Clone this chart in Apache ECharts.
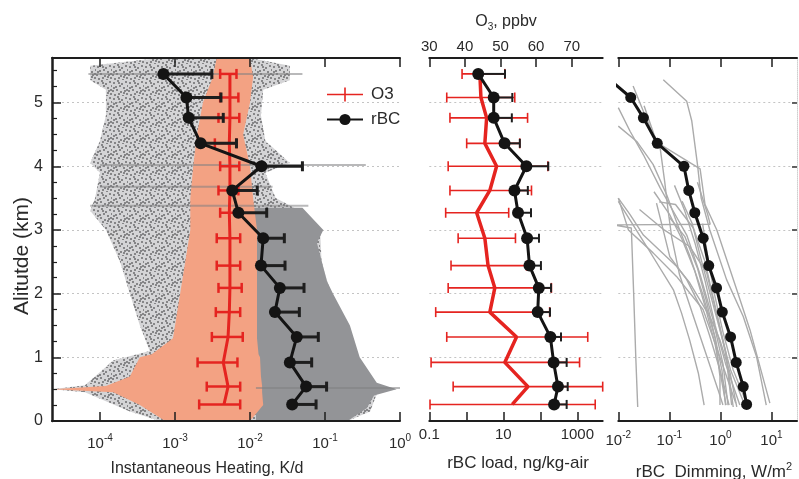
<!DOCTYPE html>
<html>
<head>
<meta charset="utf-8">
<title>Heating, rBC load and dimming profiles</title>
<script src="https://cdn.jsdelivr.net/npm/echarts@6.0.0/dist/echarts.min.js"></script>
<style>
html, body { margin: 0; padding: 0; background: #fff; }
#chart { width: 799px; height: 479px; }
</style>
</head>
<body>
<div id="chart"></div>
<script>
// ---------------------------------------------------------------------------
// Profile data (altitude bins in km)
// ---------------------------------------------------------------------------
const altitudes = [5.45, 5.08, 4.76, 4.36, 4.00, 3.62, 3.27, 2.87, 2.44, 2.09, 1.71, 1.32, 0.92, 0.54, 0.26];

// Instantaneous heating rate, K/d
const rbcHeating      = [7.0e-4, 1.42e-3, 1.52e-3, 2.2e-3, 0.0142, 5.8e-3, 7.0e-3, 0.015, 0.014, 0.025, 0.0215, 0.042, 0.034, 0.056, 0.0365];
const rbcHeatingUpper = [3.1e-3, 4.1e-3, 4.4e-3, 6.6e-3, 0.050, 0.0125, 0.0167, 0.0287, 0.0293, 0.0525, 0.0455, 0.0814, 0.0664, 0.105, 0.076];
const o3Heating       = [5.4e-3, 5.4e-3, 5.4e-3, 5.3e-3, 5.4e-3, 5.4e-3, 5.3e-3, 5.4e-3, 5.4e-3, 5.4e-3, 5.3e-3, 5.1e-3, 4.4e-3, 5.1e-3, 4.5e-3];
const o3HeatingLower  = [4.0e-3, 4.0e-3, 3.8e-3, 3.4e-3, 4.0e-3, 3.8e-3, 4.0e-3, 3.6e-3, 3.6e-3, 3.8e-3, 3.5e-3, 3.1e-3, 2.0e-3, 2.65e-3, 2.1e-3];
const o3HeatingUpper  = [6.6e-3, 7.0e-3, 7.2e-3, 6.6e-3, 7.2e-3, 7.0e-3, 7.0e-3, 7.4e-3, 7.4e-3, 7.75e-3, 7.4e-3, 8.0e-3, 6.8e-3, 7.4e-3, 7.4e-3];

// Envelopes of the individual heating samples: [altitude, low K/d, high K/d]
const sampleCloudGrey = [
  [0.00, 6.3e-4, 0.20], [0.15, 2.5e-4, 0.40], [0.45, 6.3e-5, 0.50], [0.50, 2.3e-5, 0.90],
  [0.56, 6.3e-5, 0.50], [0.95, 1.5e-4, 0.30], [1.10, 4.6e-4, 0.25], [1.50, 3.4e-4, 0.19],
  [2.00, 2.5e-4, 0.12], [2.50, 1.85e-4, 0.09], [3.00, 1.2e-4, 0.086], [3.30, 7.4e-5, 0.046],
  [3.50, 8.6e-5, 0.022], [3.90, 1.0e-4, 0.016], [4.05, 7.4e-5, 0.034], [4.40, 1.0e-4, 0.016],
  [4.80, 1.2e-4, 0.014], [5.20, 1.2e-4, 0.015], [5.35, 7.4e-5, 0.034], [5.58, 7.4e-5, 0.034],
  [5.70, 6.3e-4, 0.010]
];
const sampleCloudDense = [
  [0.00, 0.012, 0.20], [0.20, 0.012, 0.36], [0.40, 0.012, 0.45], [0.50, 0.012, 0.90],
  [0.60, 0.012, 0.49], [1.00, 0.012, 0.29], [1.50, 0.012, 0.215], [2.00, 0.011, 0.128],
  [2.20, 0.011, 0.106], [2.80, 0.010, 0.078], [3.00, 0.010, 0.095], [3.35, 0.009, 0.05]
];
const sampleCloudO3 = [
  [0.00, 7.4e-4, 0.010], [0.25, 3.4e-4, 0.015], [0.45, 1.5e-4, 0.0145], [0.50, 2.3e-5, 0.0145],
  [0.55, 1.2e-4, 0.0145], [0.70, 2.5e-4, 0.014], [1.00, 3.4e-4, 0.0136], [1.05, 4.9e-4, 0.013],
  [1.30, 9.4e-4, 0.0124], [2.00, 1.17e-3, 0.0124], [2.50, 1.37e-3, 0.0124], [3.00, 1.6e-3, 0.0124],
  [3.50, 1.6e-3, 0.011], [4.00, 1.75e-3, 0.010], [4.50, 1.96e-3, 8.1e-3], [5.00, 2.36e-3, 0.010],
  [5.40, 3.2e-3, 0.011], [5.70, 3.6e-3, 0.010]
];
// Level legs flown at constant altitude: [altitude, low K/d, high K/d]
const levelLegs = [[5.45, 7.0e-5, 0.05], [4.02, 1.0e-4, 0.35], [3.68, 1.0e-4, 0.02], [3.38, 7.4e-5, 0.06], [0.52, 0.012, 1.0]];

// rBC load, ng/kg-air, and ozone, ppbv
const rbcLoad      = [2.1, 5.5, 5.5, 10.8, 42, 20, 25, 44, 51, 91, 85, 187, 229, 300, 236];
const rbcLoadUpper = [11.1, 17.5, 17.0, 28, 164, 46, 56, 92, 104, 195, 183, 362, 515, 550, 515];
const o3Ppbv       = [44.2, 44.5, 46.1, 45.6, 48.9, 47.0, 43.3, 45.6, 46.5, 48.4, 47.0, 54.5, 51.2, 57.7, 53.3];
const o3PpbvLower  = [39.2, 34.9, 35.8, 40.5, 35.3, 35.8, 34.6, 38.1, 36.1, 35.3, 31.8, 34.9, 30.5, 36.7, 30.2];
const o3PpbvUpper  = [51.2, 54.0, 57.6, 55.4, 63.3, 58.7, 52.3, 54.2, 57.3, 64.3, 63.8, 74.5, 72.2, 78.7, 76.6];

// rBC dimming, W/m^2 (mean profile)
const dimming = [0.005, 0.0175, 0.031, 0.058, 0.193, 0.24, 0.315, 0.46, 0.59, 0.84, 1.09, 1.58, 2.04, 2.8, 3.26];

// Individual flight dimming profiles: [W/m^2, altitude km]
const dimmingProfiles = [
  [[0.076, 5.36], [0.219, 5.02], [0.275, 4.71], [0.355, 4.03], [0.42, 3.5], [0.62, 3.0], [1.32, 2.22], [2.8, 1.64], [5.1, 1.01], [7.9, 0.25]],
  [[0.0195, 5.26], [0.033, 4.81], [0.056, 4.38], [0.40, 3.96], [0.50, 3.40], [0.85, 3.0], [2.09, 2.06], [3.8, 1.43], [9.3, 0.28]],
  [[0.010, 4.92], [0.017, 4.55], [0.031, 4.18], [0.066, 3.66], [0.12, 3.29], [0.219, 2.92], [0.40, 2.3], [0.71, 1.6], [1.12, 0.9], [1.41, 0.25]],
  [[0.010, 4.63], [0.023, 4.39], [0.048, 4.03], [0.089, 3.55], [0.138, 3.13], [0.25, 2.6], [0.447, 2.0], [0.79, 1.3], [1.07, 0.8], [1.26, 0.25]],
  [[0.355, 3.75], [0.56, 3.25], [0.63, 3.09], [0.0079, 3.08], [0.018, 3.03], [0.020, 2.0], [0.022, 1.0], [0.024, 0.22]],
  [[0.010, 3.5], [0.0158, 3.0], [0.048, 2.64], [0.138, 2.27], [0.457, 1.75], [0.89, 1.1], [2.0, 0.28]],
  [[0.026, 3.32], [0.079, 3.0], [0.25, 2.74], [0.537, 2.33], [0.89, 1.6], [1.32, 1.0], [1.78, 0.22]],
  [[0.063, 3.44], [0.132, 3.4], [0.295, 3.03], [0.50, 2.5], [0.79, 1.8], [1.26, 1.1], [1.66, 0.25]],
  [[0.010, 3.5], [0.017, 3.24], [0.031, 2.92], [0.138, 2.43], [0.25, 2.17], [0.62, 1.64], [0.98, 1.27], [1.55, 0.75], [2.09, 0.22]],
  [[0.010, 3.45], [0.036, 2.74], [0.12, 2.06], [0.174, 1.69], [0.25, 1.27], [0.37, 0.75], [0.48, 0.25]],
  [[0.056, 3.42], [0.102, 2.58], [0.219, 2.22], [0.40, 1.8], [0.62, 1.33], [0.98, 0.8], [1.48, 0.25]],
  [[0.126, 3.7], [0.20, 3.3], [0.316, 2.8], [0.50, 2.2], [0.79, 1.5], [1.26, 0.9], [2.4, 0.25]],
  [[0.178, 3.45], [0.28, 3.1], [0.40, 2.6], [0.63, 2.0], [1.0, 1.4], [1.58, 0.8], [3.0, 0.25]],
  [[0.10, 3.2], [0.20, 2.9], [0.355, 2.4], [0.525, 1.9], [0.79, 1.3], [0.98, 0.7], [0.98, 0.25]],
  [[0.447, 3.1], [0.56, 2.6], [0.76, 2.0], [1.12, 1.4], [1.78, 0.8], [3.3, 0.27]],
  [[0.050, 3.6], [0.10, 3.25], [0.178, 2.85], [0.316, 2.35], [0.50, 1.8], [0.79, 1.2], [1.29, 0.25]],
  [[0.032, 4.95], [0.050, 4.5], [0.066, 4.29], [0.081, 3.76], [0.095, 3.29], [0.112, 2.87], [0.158, 2.3], [0.28, 1.7], [0.50, 1.1], [0.89, 0.5], [1.12, 0.25]]
];

// Axis tick positions (log10 decades for the logarithmic axes)
const heatingDecades = [-4, -3, -2, -1, 0];
const loadDecades = [-1, 0, 1, 2, 3];
const loadLabelDecades = [-1, 1, 3];
const o3Ticks = [30, 40, 50, 60, 70];
const dimmingDecades = [-2, -1, 0, 1];
const kmTicks = [0, 1, 2, 3, 4, 5];

// ---------------------------------------------------------------------------
// Helpers
// ---------------------------------------------------------------------------
const FONT = '"Liberation Sans", Arial, Helvetica, sans-serif';
const INK = '#1e1e1e';
const TXT = '#2a2a2a';
const RED = '#e52420';
const log = Math.log10;

const profilePoints = (xs, toX) => xs.map((v, i) => [toX(v), altitudes[i]]);
const barData = (lo, hi, toX) => lo.map((v, i) => [toX(v), toX(hi[i]), altitudes[i]]);

// Mottled fill for the sparse sample cloud (tile of small grey flecks)
function speckleFill() {
  const n = 16;
  const c = document.createElement('canvas');
  c.width = n; c.height = n;
  const g = c.getContext('2d');
  g.fillStyle = 'rgba(160,160,163,0.45)';
  g.fillRect(0, 0, n, n);
  g.fillStyle = 'rgba(125,125,128,0.9)';
  const flecks = [[1, 2], [5, 0], [9, 3], [13, 1], [3, 6], [7, 5], [11, 7], [15, 5], [0, 10], [4, 9],
                  [8, 11], [12, 10], [2, 14], [6, 13], [10, 15], [14, 13], [6, 2], [11, 12], [1, 7], [14, 9]];
  flecks.forEach(d => g.fillRect(d[0], d[1], 2, 2));
  return { image: c, repeat: 'repeat' };
}

function errorBarSeries(data, xAxisIndex, yAxisIndex, color, width, cap, bothCaps, z) {
  return {
    type: 'custom', xAxisIndex, yAxisIndex, data, z, silent: true, clip: true,
    encode: { x: [0, 1], y: 2 },
    renderItem(params, api) {
      const y = api.value(2);
      const a = api.coord([api.value(0), y]);
      const b = api.coord([api.value(1), y]);
      const h = cap / 2;
      const style = { stroke: color, lineWidth: width, fill: null };
      const kids = [
        { type: 'line', shape: { x1: a[0], y1: a[1], x2: b[0], y2: b[1] }, style },
        { type: 'line', shape: { x1: b[0], y1: b[1] - h, x2: b[0], y2: b[1] + h }, style }
      ];
      if (bothCaps) kids.push({ type: 'line', shape: { x1: a[0], y1: a[1] - h, x2: a[0], y2: a[1] + h }, style });
      return { type: 'group', children: kids };
    }
  };
}

// Closed region between a low and a high edge, drawn on the heating axes
function envelopeSeries(rows, fill, z) {
  const pts = rows.map(r => [log(r[1]), r[0]])
    .concat(rows.slice().reverse().map(r => [log(r[2]), r[0]]));
  return {
    type: 'custom', xAxisIndex: 0, yAxisIndex: 0, data: pts, z, silent: true, clip: true,
    encode: { x: 0, y: 1 },
    renderItem(params, api) {
      if (params.dataIndex !== 0) return null;
      return { type: 'polygon', shape: { points: pts.map(p => api.coord(p)) }, style: { fill } };
    }
  };
}

const supRich = {
  b: { fontFamily: FONT, fontSize: 15, lineHeight: 18, color: TXT, verticalAlign: 'bottom' },
  s: { fontFamily: FONT, fontSize: 10, lineHeight: 10, color: TXT, verticalAlign: 'top' }
};
const powerLabel = v => '{b|10}{s|' + Math.round(v) + '}';

const axisLine = { show: true, onZero: false, lineStyle: { color: INK, width: 2 } };
const gridDots = { show: true, lineStyle: { color: '#c4c4c4', width: 1, type: [2, 3] } };

function decadeAxis(gridIndex, position, min, max, ticks, labels, formatter, margin) {
  return {
    gridIndex, type: 'value', position, min, max, z: 10,
    axisLine,
    axisTick: { show: true, inside: true, length: 9, customValues: ticks, lineStyle: { color: INK, width: 1.5 } },
    axisLabel: labels
      ? { show: true, customValues: labels, margin, formatter, rich: supRich, fontFamily: FONT, fontSize: 15, color: TXT }
      : { show: false },
    splitLine: { show: false }
  };
}

// ---------------------------------------------------------------------------
// Chart
// ---------------------------------------------------------------------------
const chart = echarts.init(document.getElementById('chart'), null, { renderer: 'canvas' });

const option = {
  animation: false,
  backgroundColor: '#ffffff',
  textStyle: { fontFamily: FONT },
  grid: [
    { left: 52, right: 399, top: 58, bottom: 58, outerBoundsMode: 'none' },
    { left: 429.3, right: 196.3, top: 58, bottom: 58, outerBoundsMode: 'none' },
    { left: 618.3, right: 2, top: 58, bottom: 58, outerBoundsMode: 'none' }
  ],
  xAxis: [
    decadeAxis(0, 'bottom', -4.64, 0, heatingDecades, heatingDecades, powerLabel, 12),
    decadeAxis(0, 'top', -4.64, 0, heatingDecades, null),
    decadeAxis(1, 'bottom', -1, 3.686, loadDecades, loadLabelDecades,
      v => String(+Math.pow(10, v).toPrecision(3)), 6),
    {
      gridIndex: 1, type: 'value', position: 'top', min: 30, max: 78.7, z: 10,
      axisLine,
      axisTick: { show: true, inside: true, length: 9, customValues: o3Ticks, lineStyle: { color: INK, width: 1.5 } },
      axisLabel: { show: true, customValues: o3Ticks, margin: 4, fontFamily: FONT, fontSize: 15, color: TXT },
      splitLine: { show: false }
    },
    decadeAxis(2, 'bottom', -2, 1.5, dimmingDecades, dimmingDecades, powerLabel, 9),
    decadeAxis(2, 'top', -2, 1.5, dimmingDecades, null)
  ],
  yAxis: [
    {
      gridIndex: 0, type: 'value', position: 'left', min: 0, max: 5.7, interval: 1, z: 10,
      axisLine: { show: true, onZero: false, lineStyle: { color: INK, width: 2.5 } },
      axisTick: { show: true, inside: true, length: 9, lineStyle: { color: INK, width: 1.5 } },
      minorTick: { show: true, splitNumber: 4, length: 5, lineStyle: { color: INK, width: 1.2 } },
      axisLabel: {
        margin: 9, fontFamily: FONT, fontSize: 16, color: TXT,
        formatter: v => (Math.abs(v - Math.round(v)) < 1e-6 ? String(Math.round(v)) : '')
      },
      splitLine: { show: false }
    },
    {
      gridIndex: 1, type: 'value', min: 0, max: 5.7, interval: 1,
      axisLine: { show: false }, axisTick: { show: false }, axisLabel: { show: false },
      splitLine: gridDots
    },
    {
      gridIndex: 2, type: 'value', position: 'right', min: 0, max: 5.7, interval: 1,
      axisLine: { show: true, onZero: false, lineStyle: { color: '#cfcfcf', width: 1, type: 'dotted' } },
      axisTick: { show: true, inside: true, length: 5, customValues: kmTicks, lineStyle: { color: '#333', width: 1.5 } },
      axisLabel: { show: false },
      splitLine: gridDots
    },
    {
      gridIndex: 0, type: 'value', position: 'right', min: 0, max: 5.7, interval: 1,
      axisLine: { show: false }, axisTick: { show: false }, axisLabel: { show: false },
      splitLine: gridDots
    }
  ],
  legend: {
    data: [
      { name: 'O3', icon: 'path://M0,6.2H36V7.8H0Z M17.2,0H18.8V14H17.2Z', itemStyle: { color: RED } },
      { name: 'rBC' }
    ],
    orient: 'vertical', left: 326, top: 86, padding: 0,
    itemWidth: 36, itemHeight: 14, itemGap: 8,
    textStyle: { fontFamily: FONT, fontSize: 17, color: TXT, lineHeight: 14, padding: [0, 0, 0, 3] },
    selectedMode: false
  },
  series: [
    // heating panel: sample clouds
    envelopeSeries(sampleCloudGrey, speckleFill(), 1),
    envelopeSeries(sampleCloudDense, '#939497', 1),
    envelopeSeries(sampleCloudO3, '#f3a283', 1),
    {
      type: 'custom', xAxisIndex: 0, yAxisIndex: 0, z: 1, silent: true, clip: true,
      data: levelLegs.map(r => [log(r[1]), log(r[2]), r[0]]),
      encode: { x: [0, 1], y: 2 },
      renderItem(params, api) {
        const y = api.value(2);
        const a = api.coord([api.value(0), y]);
        const b = api.coord([api.value(1), y]);
        return { type: 'line', shape: { x1: a[0], y1: a[1], x2: b[0], y2: b[1] },
          style: { stroke: 'rgba(128,128,130,0.55)', lineWidth: 2 } };
      }
    },
    // heating panel: ozone and rBC mean profiles
    errorBarSeries(barData(o3HeatingLower, o3HeatingUpper, log), 0, 0, RED, 2.5, 10, true, 3),
    {
      name: 'O3', type: 'line', xAxisIndex: 0, yAxisIndex: 0, z: 4,
      data: profilePoints(o3Heating, log), symbol: 'none',
      lineStyle: { color: RED, width: 3 }, itemStyle: { color: RED }
    },
    errorBarSeries(barData(rbcHeating, rbcHeatingUpper, log), 0, 0, INK, 3, 10, false, 5),
    {
      name: 'rBC', type: 'line', xAxisIndex: 0, yAxisIndex: 0, z: 6,
      data: profilePoints(rbcHeating, log),
      symbol: 'circle', symbolSize: 12,
      lineStyle: { color: '#141414', width: 3 }, itemStyle: { color: '#141414' }
    },
    // load panel
    errorBarSeries(barData(o3PpbvLower, o3PpbvUpper, v => v), 3, 1, RED, 1.6, 10, true, 3),
    {
      name: 'O3 mixing ratio', type: 'line', xAxisIndex: 3, yAxisIndex: 1, z: 4,
      data: profilePoints(o3Ppbv, v => v), symbol: 'none',
      lineStyle: { color: RED, width: 3.5 }
    },
    errorBarSeries(barData(rbcLoad, rbcLoadUpper, log), 2, 1, INK, 2, 9, false, 5),
    {
      name: 'rBC load', type: 'line', xAxisIndex: 2, yAxisIndex: 1, z: 6,
      data: profilePoints(rbcLoad, log),
      symbol: 'circle', symbolSize: 12,
      lineStyle: { color: '#141414', width: 3 }, itemStyle: { color: '#141414' }
    },
    // dimming panel
    ...dimmingProfiles.map((prof, i) => ({
      name: 'flight ' + (i + 1), type: 'line', xAxisIndex: 4, yAxisIndex: 2, z: 3,
      data: prof.map(p => [log(p[0]), p[1]]), symbol: 'none', silent: true, clip: true,
      lineStyle: { color: '#ababab', width: 1.4 }
    })),
    {
      name: 'rBC dimming', type: 'line', xAxisIndex: 4, yAxisIndex: 2, z: 6, clip: true,
      data: profilePoints(dimming, log),
      symbol: 'circle', symbolSize: 11,
      lineStyle: { color: '#141414', width: 3 }, itemStyle: { color: '#141414' }
    }
  ],
  graphic: [
    {
      type: 'text', x: 22, y: 256, rotation: Math.PI / 2, z: 20,
      style: { text: 'Alitutde (km)', font: '21px ' + FONT, fill: TXT, align: 'center', verticalAlign: 'middle' }
    },
    {
      type: 'text', x: 207, y: 469, z: 20,
      style: { text: 'Instantaneous Heating, K/d', font: '16px ' + FONT, fill: TXT, align: 'center', verticalAlign: 'middle' }
    },
    {
      type: 'text', x: 518, y: 463, z: 20,
      style: { text: 'rBC load, ng/kg-air', font: '17px ' + FONT, fill: TXT, align: 'center', verticalAlign: 'middle' }
    },
    {
      type: 'text', x: 714, y: 471, z: 20,
      style: {
        text: '{a|rBC  Dimming, W/m}{s|2}', align: 'center', verticalAlign: 'middle', fill: TXT,
        rich: {
          a: { fontFamily: FONT, fontSize: 17, lineHeight: 20, fill: TXT, verticalAlign: 'bottom' },
          s: { fontFamily: FONT, fontSize: 11, lineHeight: 11, fill: TXT, verticalAlign: 'top' }
        }
      }
    },
    {
      type: 'text', x: 506, y: 23, z: 20,
      style: {
        text: '{a|O}{u|3}{a|, ppbv}', align: 'center', verticalAlign: 'middle', fill: TXT,
        rich: {
          a: { fontFamily: FONT, fontSize: 16, lineHeight: 18, fill: TXT, verticalAlign: 'top' },
          u: { fontFamily: FONT, fontSize: 10, lineHeight: 10, fill: TXT, verticalAlign: 'bottom' }
        }
      }
    }
  ]
};

chart.setOption(option);
</script>
</body>
</html>
